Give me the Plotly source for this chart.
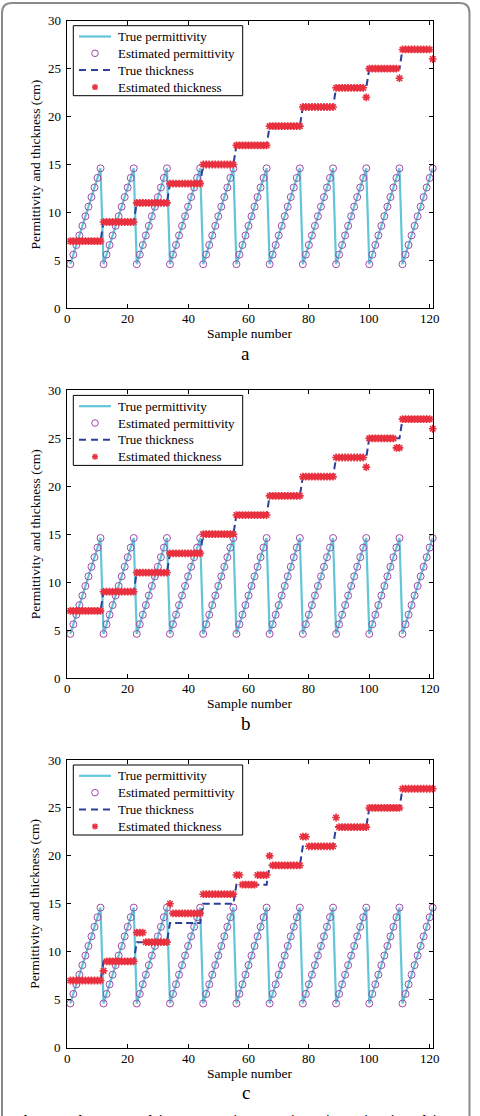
import plotly.graph_objects as go

W, H = 480, 1116

# ---------------- data ----------------
sample_number = list(range(1, 122))

true_permittivity = [
    4.6, 5.6, 6.6, 7.6, 8.6, 9.6, 10.6, 11.6, 12.6, 13.6, 14.6,
    4.6, 5.6, 6.6, 7.6, 8.6, 9.6, 10.6, 11.6, 12.6, 13.6, 14.6,
    4.6, 5.6, 6.6, 7.6, 8.6, 9.6, 10.6, 11.6, 12.6, 13.6, 14.6,
    4.6, 5.6, 6.6, 7.6, 8.6, 9.6, 10.6, 11.6, 12.6, 13.6, 14.6,
    4.6, 5.6, 6.6, 7.6, 8.6, 9.6, 10.6, 11.6, 12.6, 13.6, 14.6,
    4.6, 5.6, 6.6, 7.6, 8.6, 9.6, 10.6, 11.6, 12.6, 13.6, 14.6,
    4.6, 5.6, 6.6, 7.6, 8.6, 9.6, 10.6, 11.6, 12.6, 13.6, 14.6,
    4.6, 5.6, 6.6, 7.6, 8.6, 9.6, 10.6, 11.6, 12.6, 13.6, 14.6,
    4.6, 5.6, 6.6, 7.6, 8.6, 9.6, 10.6, 11.6, 12.6, 13.6, 14.6,
    4.6, 5.6, 6.6, 7.6, 8.6, 9.6, 10.6, 11.6, 12.6, 13.6, 14.6,
    4.6, 5.6, 6.6, 7.6, 8.6, 9.6, 10.6, 11.6, 12.6, 13.6, 14.6,
]
estimated_permittivity = list(true_permittivity)

# thickness as (value, number of samples) runs
true_thickness_runs = [(7, 11), (9, 11), (11, 11), (13, 11), (15, 11), (17, 11),
                       (19, 11), (21, 11), (23, 11), (25, 11), (27, 11)]
est_thickness_runs_a = [(7, 11), (9, 11), (11, 11), (13, 11), (15, 11), (17, 11),
                        (19, 11), (21, 11), (23, 10), (22, 1), (25, 10), (24, 1),
                        (27, 10), (26, 1)]
est_thickness_runs_b = [(7, 11), (9, 11), (11, 11), (13, 11), (15, 11), (17, 11),
                        (19, 11), (21, 11), (23, 10), (22, 1), (25, 9), (24, 2),
                        (27, 10), (26, 1)]
est_thickness_runs_c = [(7, 11), (8, 1), (9, 10), (12, 3), (11, 8), (15, 1), (14, 10),
                        (16, 11), (18, 2), (17, 5), (18, 4), (20, 1), (19, 10),
                        (22, 2), (21, 9), (24, 1), (23, 10), (25, 11), (27, 11)]

x_ticks = [0, 20, 40, 60, 80, 100, 120]
y_ticks = [0, 5, 10, 15, 20, 25, 30]
panel_labels = ["a", "b", "c"]
legend_names = ["True permittivity", "Estimated permittivity",
                "True thickness", "Estimated thickness"]


def expand(runs):
    out = []
    for v, n in runs:
        out.extend([v] * n)
    return out


true_thickness = expand(true_thickness_runs)
est_sets = [expand(est_thickness_runs_a), expand(est_thickness_runs_b),
            expand(est_thickness_runs_c)]

# ---------------- styling ----------------
FONT = "Liberation Serif"
C_PERM = "#62c6d8"
C_CIRC = "#a04aa8"
C_TH = "#2c3f99"
C_EST = "#e8303f"

x0_px, x1_px = 67.3, 432.7
tops = [20.7, 390.4, 760.0]
ph = 287.6


def px(x):
    return x / W


def py(y):
    return 1 - y / H


fig = go.Figure()
annotations, shapes = [], []
layout = dict(
    width=W, height=H, autosize=False, showlegend=False,
    margin=dict(l=0, r=0, t=0, b=0),
    paper_bgcolor="white", plot_bgcolor="white",
    font=dict(family=FONT, size=13, color="black"),
)


def pline(xa, ya, xb, yb, color, width, dash=None):
    d = dict(type="line", xref="paper", yref="paper",
             x0=px(xa), y0=py(ya), x1=px(xb), y1=py(yb),
             line=dict(color=color, width=width))
    if dash:
        d["line"]["dash"] = dash
    shapes.append(d)


for i in range(3):
    sfx = "" if i == 0 else str(i + 1)
    xa, ya = "x" + sfx, "y" + sfx
    top = tops[i]
    bot = top + ph
    fig.add_trace(go.Scatter(x=sample_number, y=true_permittivity, mode="lines",
                             line=dict(color=C_PERM, width=2.2),
                             name=legend_names[0], xaxis=xa, yaxis=ya))
    fig.add_trace(go.Scatter(x=sample_number, y=estimated_permittivity, mode="markers",
                             marker=dict(symbol="circle-open", size=7, color=C_CIRC,
                                         line=dict(width=1)),
                             name=legend_names[1], xaxis=xa, yaxis=ya,
                             cliponaxis=False))
    fig.add_trace(go.Scatter(x=sample_number, y=true_thickness, mode="lines",
                             line=dict(color=C_TH, width=2, dash="7px,4px"),
                             name=legend_names[2], xaxis=xa, yaxis=ya))
    fig.add_trace(go.Scatter(x=sample_number, y=est_sets[i], mode="markers",
                             marker=dict(symbol="asterisk-open", size=6.5, color=C_EST,
                                         line=dict(width=1.6)),
                             name=legend_names[3], xaxis=xa, yaxis=ya,
                             cliponaxis=False))

    axcommon = dict(showgrid=False, zeroline=False, showline=True, linecolor="black",
                    linewidth=1, mirror="ticks", ticks="inside", ticklen=4,
                    tickcolor="black", tickwidth=1, showticklabels=False)
    layout["xaxis" + sfx] = dict(axcommon, domain=[px(x0_px), px(x1_px)],
                                 range=[0, 121], tickvals=x_ticks, anchor=ya)
    layout["yaxis" + sfx] = dict(axcommon, domain=[py(bot), py(top)],
                                 range=[0, 30], tickvals=y_ticks, anchor=xa)

    # tick labels as text placed at the axis values
    for t in x_ticks:
        annotations.append(dict(x=t, xref=xa, y=py(bot + 10.5), yref="paper",
                                xanchor="center", yanchor="middle", text=str(t),
                                showarrow=False,
                                font=dict(family=FONT, size=13, color="black")))
    for t in y_ticks:
        annotations.append(dict(x=px(62.5), xref="paper", y=t, yref=ya,
                                xanchor="right", yanchor="middle", text=str(t),
                                showarrow=False,
                                font=dict(family=FONT, size=13, color="black")))

    # ---- manual legend ----
    shapes.append(dict(type="rect", xref="paper", yref="paper",
                       x0=px(73.3), x1=px(242.7), y0=py(top + 5), y1=py(top + 75),
                       line=dict(color="black", width=1), fillcolor="white"))
    rows = [top + 15.8, top + 32.6, top + 49.4, top + 66.4]
    pline(79, rows[0], 111, rows[0], C_PERM, 2.2)
    shapes.append(dict(type="circle", xref="paper", yref="paper",
                       x0=px(95 - 3.3), x1=px(95 + 3.3),
                       y0=py(rows[1] - 3.3), y1=py(rows[1] + 3.3),
                       line=dict(color=C_CIRC, width=1)))
    pline(79, rows[2], 111, rows[2], C_TH, 2, dash="7px,5px")
    s = 3.0
    pline(95 - s, rows[3], 95 + s, rows[3], C_EST, 1.5)
    pline(95, rows[3] - s, 95, rows[3] + s, C_EST, 1.5)
    pline(95 - s * 0.75, rows[3] - s * 0.75, 95 + s * 0.75, rows[3] + s * 0.75, C_EST, 1.5)
    pline(95 - s * 0.75, rows[3] + s * 0.75, 95 + s * 0.75, rows[3] - s * 0.75, C_EST, 1.5)
    for name, ry in zip(legend_names, rows):
        annotations.append(dict(x=px(115.7), y=py(ry), xref="paper", yref="paper",
                                xanchor="left", yanchor="middle", text=name,
                                showarrow=False,
                                font=dict(family=FONT, size=13, color="black")))

    annotations.append(dict(
        x=px(250), y=py(bot + 25.5), xref="paper", yref="paper",
        xanchor="center", yanchor="middle",
        text="Sample number", showarrow=False,
        font=dict(family=FONT, size=13.5, color="black")))
    annotations.append(dict(
        x=px(246), y=py(bot + 45), xref="paper", yref="paper",
        xanchor="center", yanchor="middle",
        text=panel_labels[i], showarrow=False,
        font=dict(family=FONT, size=19, color="black")))
    annotations.append(dict(
        x=px(35), y=py(top + ph / 2), xref="paper", yref="paper",
        xanchor="center", yanchor="middle",
        text="Permittivity and thickness (cm)", showarrow=False, textangle=-90,
        font=dict(family=FONT, size=13.5, color="black")))

# caption (cut off at the bottom edge as in the reference)
annotations.append(dict(
    x=px(13), y=py(1110.5), xref="paper", yref="paper", xanchor="left", yanchor="top",
    text="<b>Fig. 3</b> Performance of the proposed approach on the estimation of the",
    showarrow=False, font=dict(family="Liberation Sans", size=14, color="black")))

# rounded frame
r = 10
L, R, T, B = 2, 469.5, 3, 1130
path = (f"M {px(L)},{py(B)} L {px(L)},{py(T + r)} "
        f"Q {px(L)},{py(T)} {px(L + r)},{py(T)} "
        f"L {px(R - r)},{py(T)} Q {px(R)},{py(T)} {px(R)},{py(T + r)} "
        f"L {px(R)},{py(B)}")
shapes.append(dict(type="path", xref="paper", yref="paper", path=path,
                   line=dict(color="#8a8a8a", width=2)))

layout["annotations"] = annotations
layout["shapes"] = shapes
fig.update_layout(**layout)
fig.write_html("out.html")
